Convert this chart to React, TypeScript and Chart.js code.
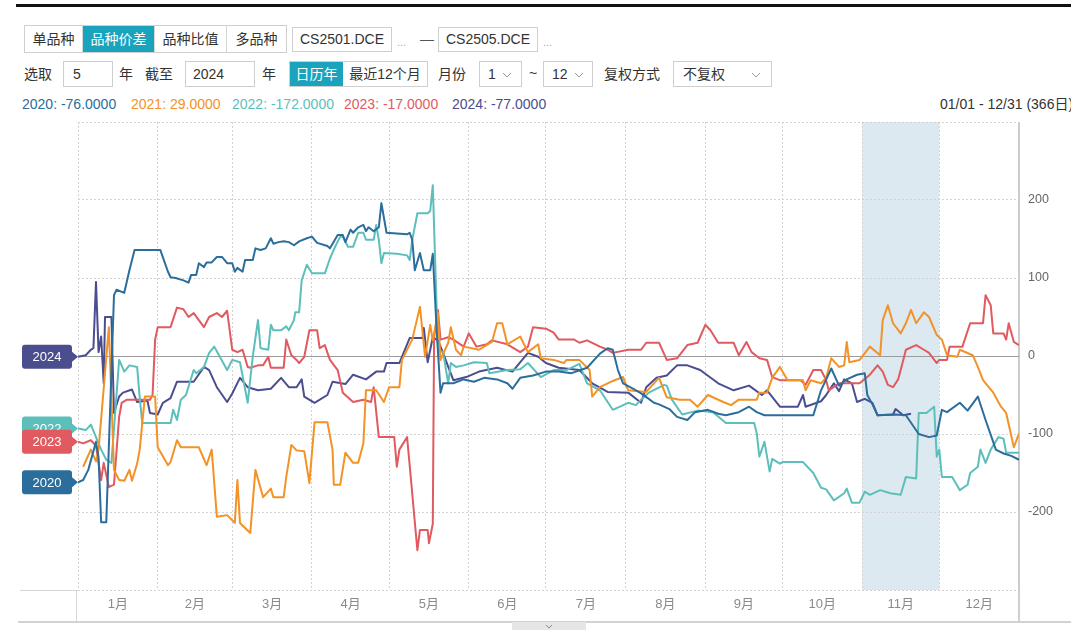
import React, { useEffect, useRef } from 'react';
import { Chart, registerables } from 'chart.js';

Chart.register(...registerables);

// ---------- data ----------
const monthLabels = ['1月', '2月', '3月', '4月', '5月', '6月', '7月', '8月', '9月', '10月', '11月', '12月'];
const monthStarts = [0, 31, 60, 91, 121, 152, 182, 213, 244, 274, 305, 335, 366];
const monthMids = [15.5, 45.5, 75.5, 106, 136.5, 167, 197.5, 228.5, 259, 289.5, 320, 350.5];
const yTicks = [-300, -200, -100, 0, 100, 200, 300];
const bandStart = 305;
const bandEnd = 335;

const s2020: [number, number][] = [[0,-162],[2,-159],[4,-146],[7,-110],[8,-130],[9,-213],[11,-213],[14,78],[15,85],[18,81],[20,110],[22,136],[32,136],[35,108],[36,101],[38,100],[41,97],[43,94],[44,104],[46,104],[47,119],[49,114],[50,120],[52,120],[54,127],[56,127],[58,119],[60,119],[61,108],[62,113],[64,108],[65,123],[68,123],[69,138],[71,136],[73,138],[75,151],[76,144],[78,146],[80,147],[82,146],[84,142],[86,147],[89,151],[91,153],[93,145],[97,141],[98,138],[101,155],[103,155],[104,146],[106,162],[107,158],[109,165],[111,168],[112,160],[113,165],[115,160],[117,165],[118,196],[120,158],[128,156],[129,158],[130,149],[131,110],[133,132],[134.5,110],[137,110],[138,131],[139.5,33],[141,-47],[142,-35],[146,-35],[150,-30],[154,-33],[158,-28],[163,-30],[167,-35],[169,-42],[172,-28],[177,-25],[182,-20],[187,-20],[192,-22],[198,-15],[203,3],[206,10],[208,8],[210,-18],[212,-35],[216,-42],[219,-48],[222,-55],[224,-60],[226,-62],[230,-68],[233,-78],[237,-82],[240,-72],[245,-69],[249,-74],[252,-76],[257,-72],[261,-65],[264,-72],[267,-76],[273,-76],[283,-76],[286,-76],[289,-44],[293,-16],[296,-38],[299,-30],[303,-24],[306,-22],[307,-50],[309,-62],[311,-76],[318,-75],[322,-76],[327,-100],[331,-104],[334,-102],[336,-69],[338,-72],[343,-60],[346,-70],[350,-52],[353,-82],[357,-120],[360,-125],[363,-128],[366,-133]];

const s2021: [number, number][] = [[2,-142],[5,-120],[7,-135],[8,-120],[12,37],[14,-146],[16,-159],[18,-160],[20,-146],[21,-160],[23,-138],[24,-120],[26,-52],[30,-52],[31,-117],[35,-140],[36,-136],[38.5,-108],[40,-117],[47,-117],[50,-140],[52,-120],[54,-206],[58,-204],[61,-214],[62,-159],[63,-214],[67,-227],[69,-146],[72,-181],[75,-170],[76,-181],[80,-181],[81,-155],[83,-114],[85,-121],[88,-122],[90,-163],[92,-85],[97,-85],[99,-120],[99.5,-165],[102,-165],[104,-124],[107,-137],[109,-137],[111,-112],[112,-44],[116,-44],[119,-59],[121,-40],[125,-40],[126,-5],[130,21],[133,63],[135,-1],[137,40],[138,20],[140,55],[141,-5],[144,17],[145,37],[147,8],[149,1],[150,12],[156,8],[161,18],[163,42],[165,42],[167,15],[172,25],[175,5],[179,15],[180,-3],[185,-5],[189,-9],[190,-5],[195,-5],[199,-18],[200,-52],[203,-40],[208,-32],[212,-27],[214,-44],[221,-46],[226,-28],[229,-53],[234,-56],[238,-56],[241,-65],[245,-50],[251,-59],[254,-63],[257,-56],[264,-56],[265,-47],[268,-47],[270,-28],[273,-14],[276,-31],[282,-31],[283,-44],[285,-31],[289,-35],[291,-28],[293,-3],[296,-14],[298,-12],[299,18],[300,-8],[304,-5],[308,12],[312,1],[313,46],[315,65],[317,42],[320,29],[322,42],[324,59],[326,42],[329,56],[331,50],[334,27],[336,21],[338,1],[342,-1],[343,8],[348,1],[350,-14],[352,-31],[356,-47],[359,-65],[361,-73],[364,-117],[366,-99]];

const s2022: [number, number][] = [[0,-93],[3,-95],[5,-88],[9,-120],[11,-133],[13,-137],[16,-5],[18,-20],[20,-12],[23,-14],[24,-53],[25,-86],[36,-86],[37,-69],[38.5,-82],[40,-56],[42,-50],[45,-18],[46,-22],[49,-14],[51,4],[53,12],[55,0],[58,-18],[60,-5],[63,-8],[66,-60],[68,0],[70,46],[71,10],[74,8],[75,40],[76,33],[79,33],[81,38],[82,33],[84,46],[84.5,56],[86,56],[87,97],[89,117],[91,106],[96,106],[98,125],[100,140],[102,153],[103,153],[105,140],[107,140],[109,158],[111,158],[112,149],[115,149],[116,168],[117,149],[118,119],[119,132],[124,131],[128,129],[129,123],[130,149],[132,183],[136,183],[137,186],[138,219],[140,8],[142,5],[144,-35],[145,-9],[147,-14],[150,-12],[154,-8],[159,-9],[160,-22],[167,-18],[172,-17],[175,-9],[180,-27],[185,-18],[190,-18],[195,-10],[198,-35],[203,-44],[208,-69],[214,-60],[217,-63],[219,-56],[222,-47],[228,-37],[229,-38],[231,-56],[235,-75],[241,-70],[247,-72],[252,-86],[263,-86],[264,-99],[265,-129],[267,-110],[269,-148],[270,-132],[273,-138],[274,-136],[282,-136],[286,-150],[289,-169],[291,-171],[294,-185],[298,-176],[299,-170],[301,-188],[304,-188],[306,-174],[308,-178],[312,-172],[316,-176],[320,-178],[322,-155],[326,-157],[327,-73],[330,-73],[333,-65],[334,-129],[335,-120],[336,-155],[340,-155],[343,-172],[346,-165],[347,-150],[350,-142],[351,-120],[353,-137],[355,-120],[358,-104],[360,-106],[361,-124],[366,-124]];

const s2023: [number, number][] = [[0,-110],[2,-112],[5,-108],[7,-115],[9,-159],[10,-137],[12,-168],[14,-165],[16,-78],[17,-60],[19,-56],[28,-56],[29,-50],[30,21],[31,37],[36,37],[38.5,62],[41,60],[43,50],[45,55],[49,37],[51,50],[54,55],[56,50],[58,58],[60,8],[62,5],[64,8],[66,-14],[67,-15],[70,-12],[72,-12],[74,-1],[75,-15],[80,-15],[81,21],[83,1],[85,-5],[86,-9],[88,-1],[90,33],[93,33],[94,10],[96,14],[98,-5],[101,-18],[103,-47],[107,-59],[111,-56],[114,-59],[115,-40],[117,-104],[123,-104],[124,-142],[125,-120],[128,-104],[129,-140],[132,-249],[133,-223],[136,-223],[136.5,-240],[138,-215],[138.5,24],[140,59],[141,21],[144,24],[146,21],[150,12],[152,29],[155,12],[159,15],[161,20],[167,15],[172,5],[175,12],[177,37],[182,35],[185,30],[187,21],[193,21],[195,17],[198,20],[203,12],[206,8],[208,4],[214,8],[219,8],[221,17],[226,17],[229,-5],[233,-3],[237,14],[241,17],[244,40],[246,33],[249,17],[255,17],[257,1],[260,18],[262,5],[265,-3],[268,-5],[270,-27],[273,-31],[281,-31],[283,-37],[286,-18],[289,-18],[291,-31],[292,-44],[296,-35],[304,-35],[308,-24],[311,-12],[313,-20],[315,-37],[317,-40],[319,-30],[321,-5],[322,8],[326,14],[329,8],[331,4],[334,-9],[335,-5],[338,-5],[339,12],[344,12],[347,42],[352,42],[353,78],[355,65],[356,29],[360,29],[361,21],[362,42],[364,18],[366,14]];

const s2024: [number, number][] = [[0,-1],[3,1],[5,8],[6,10],[7,95],[8,5],[9,25],[10,-35],[10.5,50],[13,50],[14,-73],[16,-52],[17.5,-47],[21,-43],[23,-59],[27,-57],[28,-73],[31,-75],[33,-60],[36,-54],[38.5,-33],[45,-33],[49,-14],[51,-18],[54,-40],[58,-59],[60,-48],[63,-28],[66,-40],[70,-44],[75,-42],[79,-28],[82,-40],[85,-40],[87,-30],[88,-52],[92,-60],[97,-50],[99,-33],[104,-36],[107,-24],[112,-30],[116,-20],[119,-20],[120,-9],[125,-9],[129,23],[134,23],[134.5,36],[136,-8],[138,24],[140,20],[142,4],[144,-14],[146,-31],[151,-27],[156,-20],[163,-15],[169,-20],[175,4],[179,-1],[182,-9],[187,-15],[195,-18],[200,-35],[206,-46],[214,-47],[219,-60],[221,-40],[225,-28],[229,-25],[233,-12],[237,-12],[242,-18],[249,-35],[255,-44],[261,-38],[266,-50],[268,-44],[273,-65],[280,-65],[282,-50],[283,-65],[289,-58],[291,-50],[294,-35],[296,-45],[298,-30],[301,-35],[303,-59],[306,-55],[309,-60],[311,-76],[317,-75],[318,-68],[321,-76],[324,-74]];

const seriesNames = ['2020', '2021', '2022', '2023', '2024'];
const seriesColors = ['#2b6e9c', '#f39226', '#5cbfba', '#e05a5f', '#4b4e8e'];
const seriesData = [s2020, s2021, s2022, s2023, s2024];
const legendValues = ['-76.0000', '29.0000', '-172.0000', '-17.0000', '-77.0000'];
const legendX = [22, 131, 232, 344, 452];
const tagOrder = [4, 0, 2, 3];

const FONT = '"Liberation Sans", Arial, "Noto Sans CJK SC", sans-serif';

const decorPlugin = {
  id: 'decor',
  beforeDraw(chart: any) {
    const { ctx, chartArea, scales } = chart;
    const x = scales.x;
    const x1 = x.getPixelForValue(bandStart);
    const x2 = x.getPixelForValue(bandEnd);
    ctx.save();
    ctx.fillStyle = '#dce9f1';
    ctx.fillRect(x1, chartArea.top, x2 - x1, chartArea.bottom - chartArea.top);
    ctx.restore();
  },
  afterDraw(chart: any) {
    const { ctx, chartArea, scales } = chart;
    const y = scales.y;
    ctx.save();
    const b = chartArea.bottom;
    ctx.strokeStyle = '#d6d6d6';
    ctx.lineWidth = 1;
    ctx.beginPath();
    ctx.moveTo(20, b + 0.5);
    ctx.lineTo(chartArea.left, b + 0.5);
    ctx.stroke();
    ctx.beginPath();
    ctx.moveTo(chartArea.left - 1.5, b);
    ctx.lineTo(chartArea.left - 1.5, b + 31);
    ctx.stroke();
    ctx.strokeStyle = '#cfcfcf';
    ctx.lineWidth = 2;
    ctx.beginPath();
    ctx.moveTo(chartArea.right, b);
    ctx.lineTo(chartArea.right, b + 31);
    ctx.stroke();
    ctx.strokeStyle = '#d2d2d2';
    ctx.lineWidth = 2;
    ctx.beginPath();
    ctx.moveTo(18, b + 32);
    ctx.lineTo(1071, b + 32);
    ctx.stroke();
    tagOrder.forEach((i) => {
      const pts = seriesData[i];
      if (pts[0][0] !== 0) return;
      const py = y.getPixelForValue(pts[0][1]);
      const left = 22, w = 50, h = 24, r = 3;
      const top = py - h / 2;
      ctx.fillStyle = seriesColors[i];
      ctx.beginPath();
      ctx.moveTo(left + r, top);
      ctx.lineTo(left + w - r, top);
      ctx.quadraticCurveTo(left + w, top, left + w, top + r);
      ctx.lineTo(left + w, py - 5);
      ctx.lineTo(left + w + 6, py);
      ctx.lineTo(left + w, py + 5);
      ctx.lineTo(left + w, top + h - r);
      ctx.quadraticCurveTo(left + w, top + h, left + w - r, top + h);
      ctx.lineTo(left + r, top + h);
      ctx.quadraticCurveTo(left, top + h, left, top + h - r);
      ctx.lineTo(left, top + r);
      ctx.quadraticCurveTo(left, top, left + r, top);
      ctx.closePath();
      ctx.fill();
      ctx.fillStyle = '#ffffff';
      ctx.font = '13px ' + FONT;
      ctx.textAlign = 'center';
      ctx.textBaseline = 'middle';
      ctx.fillText(seriesNames[i], left + w / 2, py + 1);
    });
    ctx.restore();
  },
};

const Chevron = ({ x, y }: { x: number; y: number }) => (
  <svg width="10" height="6" style={{ position: 'absolute', left: x, top: y }}>
    <polyline points="1,1 5,5 9,1" fill="none" stroke="#9a9a9a" strokeWidth="1" />
  </svg>
);

const Txt = ({ x, y, children, color = '#333', size = 14 }: any) => (
  <div style={{ position: 'absolute', left: x, top: y, fontSize: size, color, lineHeight: '16px', whiteSpace: 'nowrap' }}>{children}</div>
);

const Box = ({ x, y, w, h, children, align = 'center', pad = 0, bg = '#fff', color = '#333', border = '1px solid #cfcfcf' }: any) => (
  <div style={{ position: 'absolute', left: x, top: y, width: w, height: h, boxSizing: 'border-box', border, background: bg, color, fontSize: 14, lineHeight: (h - 2) + 'px', textAlign: align, paddingLeft: pad, whiteSpace: 'nowrap' }}>{children}</div>
);

export default function App() {
  const canvasRef = useRef<HTMLCanvasElement | null>(null);

  useEffect(() => {
    const canvas = canvasRef.current;
    if (!canvas) return;
    Chart.defaults.font.family = FONT;
    const chart = new Chart(canvas, {
      type: 'line',
      data: {
        datasets: seriesData.map((pts, i) => ({
          label: seriesNames[i],
          data: pts.map(([x, y]) => ({ x, y })),
          borderColor: seriesColors[i],
          backgroundColor: seriesColors[i],
          borderWidth: 2,
          pointRadius: 0,
          pointHoverRadius: 0,
          tension: 0,
          fill: false,
          borderJoinStyle: 'round',
          xAxisID: 'x',
          yAxisID: 'y',
        })),
      },
      options: {
        animation: false,
        responsive: false,
        devicePixelRatio: 1,
        events: [],
        layout: { padding: { left: 78, right: 0, top: 7, bottom: 4 } },
        plugins: { legend: { display: false }, tooltip: { enabled: false } },
        scales: {
          x: {
            type: 'linear',
            position: 'bottom',
            min: 0,
            max: 366,
            afterBuildTicks: (s: any) => { s.ticks = monthMids.map((v) => ({ value: v })); },
            afterFit: (s: any) => { s.height = 31; s.paddingLeft = 0; s.paddingRight = 0; s.paddingTop = 0; s.paddingBottom = 0; },
            grid: { display: false, drawTicks: false },
            border: { display: false },
            ticks: {
              autoSkip: false,
              maxRotation: 0,
              padding: 7,
              color: '#8a8a8a',
              font: { size: 13 },
              callback: (v: any) => { const i = monthMids.indexOf(Number(v)); return i >= 0 ? monthLabels[i] : ''; },
            },
          },
          xg: {
            type: 'linear',
            position: 'bottom',
            min: 0,
            max: 366,
            afterBuildTicks: (s: any) => { s.ticks = monthStarts.map((v) => ({ value: v })); },
            afterFit: (s: any) => { s.height = 0; s.paddingLeft = 0; s.paddingRight = 0; s.paddingTop = 0; s.paddingBottom = 0; },
            grid: {
              drawTicks: false,
              color: (c: any) => (c.tick && c.tick.value === 366 ? '#cccccc' : '#d2d2d2'),
              lineWidth: (c: any) => (c.tick && c.tick.value === 366 ? 2 : 1),
            },
            border: { display: false, dash: (c: any) => (c.tick && c.tick.value === 366 ? [] : [2, 2]) },
            ticks: { display: false },
          },
          y: {
            type: 'linear',
            position: 'right',
            min: -300,
            max: 300,
            afterBuildTicks: (s: any) => { s.ticks = yTicks.map((v) => ({ value: v })); },
            afterFit: (s: any) => { s.width = 52; s.paddingTop = 0; s.paddingBottom = 0; s.paddingLeft = 0; s.paddingRight = 0; },
            grid: {
              drawTicks: false,
              color: (c: any) => (c.tick && c.tick.value === 0 ? '#9c9c9c' : '#d2d2d2'),
            },
            border: { display: false, dash: (c: any) => (c.tick && c.tick.value === 0 ? [] : [2, 2]) },
            ticks: {
              padding: 9,
              color: '#666',
              font: { size: 12.5 },
              callback: (v: any) => (Math.abs(Number(v)) === 300 ? '' : String(v)),
            },
          },
        },
      } as any,
      plugins: [decorPlugin],
    });
    return () => chart.destroy();
  }, []);

  const btn = (label: string, w: number, active: boolean, last = false) => (
    <div style={{ width: w, height: '100%', boxSizing: 'border-box', textAlign: 'center', lineHeight: '26px', background: active ? '#1aa3bd' : '#fff', color: active ? '#fff' : '#333', borderRight: last ? 'none' : '1px solid #d6d6d6' }}>{label}</div>
  );

  return (
    <div style={{ position: 'fixed', left: 0, top: 0, width: 1071, height: 639, overflow: 'hidden', background: '#fff', fontFamily: FONT, fontSize: 14, color: '#333' }}>
      <div style={{ position: 'absolute', left: 16, top: 4, width: 1060, height: 3, background: '#111' }} />

      <div style={{ position: 'absolute', left: 24, top: 25, height: 28, display: 'flex', border: '1px solid #cfcfcf', boxSizing: 'border-box' }}>
        {btn('单品种', 58, false)}
        {btn('品种价差', 72, true)}
        {btn('品种比值', 72, false)}
        {btn('多品种', 59, false, true)}
      </div>
      <Box x={292} y={27} w={100} h={25}>CS2501.DCE</Box>
      <Txt x={397} y={34} color="#aaa" size={11}>...</Txt>
      <Txt x={420} y={31} color="#555">—</Txt>
      <Box x={438} y={27} w={100} h={25}>CS2505.DCE</Box>
      <Txt x={543} y={34} color="#aaa" size={11}>...</Txt>

      <Txt x={24} y={66}>选取</Txt>
      <Box x={63} y={61} w={50} h={26} align="left" pad={9}>5</Box>
      <Txt x={119} y={66}>年</Txt>
      <Txt x={145} y={66}>截至</Txt>
      <Box x={185} y={61} w={70} h={26} align="left" pad={7}>2024</Box>
      <Txt x={262} y={66}>年</Txt>
      <div style={{ position: 'absolute', left: 289, top: 61, height: 26, display: 'flex', border: '1px solid #cfcfcf', boxSizing: 'border-box' }}>
        <div style={{ width: 53, textAlign: 'center', lineHeight: '24px', background: '#1aa3bd', color: '#fff' }}>日历年</div>
        <div style={{ width: 84, textAlign: 'center', lineHeight: '24px', color: '#333' }}>最近12个月</div>
      </div>
      <Txt x={438} y={66}>月份</Txt>
      <Box x={479} y={61} w={43} h={26} align="left" pad={8}>1</Box>
      <Chevron x={502} y={72} />
      <Txt x={529} y={65}>~</Txt>
      <Box x={543} y={61} w={50} h={26} align="left" pad={8}>12</Box>
      <Chevron x={574} y={72} />
      <Txt x={604} y={66}>复权方式</Txt>
      <Box x={673} y={61} w={99} h={26} align="left" pad={9}>不复权</Box>
      <Chevron x={751} y={72} />

      {seriesNames.map((n, i) => (
        <Txt key={n} x={legendX[i]} y={96} color={seriesColors[i]}>{n + ': ' + legendValues[i]}</Txt>
      ))}
      <Txt x={940} y={96} color="#333">01/01 - 12/31 (366日)</Txt>

      <canvas ref={canvasRef} width={1071} height={510} style={{ position: 'absolute', left: 0, top: 115, width: 1071, height: 510 }} />

      <div style={{ position: 'absolute', left: 512, top: 622, width: 74, height: 8, background: '#e6e6e6' }}>
        <svg width="8" height="5" style={{ position: 'absolute', left: 33, top: 3 }}>
          <polyline points="1,0 4,3 7,0" fill="none" stroke="#888" strokeWidth="1" />
        </svg>
      </div>
    </div>
  );
}
